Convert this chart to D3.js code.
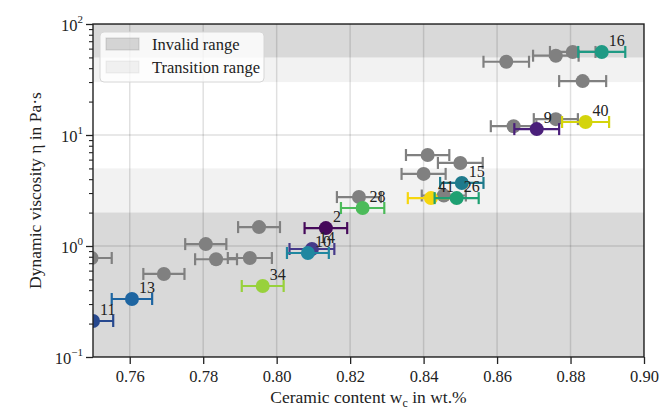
<!DOCTYPE html>
<html><head><meta charset="utf-8">
<script src="https://cdn.jsdelivr.net/npm/d3@7"></script>
<style>
body{margin:0;background:#fff}
svg{display:block}
</style>
</head><body>
<svg id="c" width="660" height="412"></svg>
<script>
// ---- data ----
const xTicks = [0.76, 0.78, 0.80, 0.82, 0.84, 0.86, 0.88, 0.90];
const yTicks = [0.1, 1, 10, 100];
const yExponents = ["\u22121", "0", "1", "2"];
const invalidBands = [[0.1, 2], [50, 100]];
const transitionBands = [[2, 5], [30, 50]];
const legendLabels = ["Invalid range", "Transition range"];

// reference (gray) measurements
const grayX   = [0.8625, 0.8760, 0.8806, 0.8833, 0.8645, 0.8760, 0.8411, 0.8500, 0.8400, 0.8455, 0.8224, 0.7952, 0.7807, 0.7835, 0.7927, 0.7496, 0.7693];
const grayY   = [45.7,   51.8,   56.0,   30.6,   12.0,   13.9,   6.6,    5.6,    4.46,   2.85,   2.76,   1.48,   1.04,   0.76,   0.78,   0.78,   0.56];
const grayErr = [0.0062, 0.0062, 0.0062, 0.0064, 0.0062, 0.0060, 0.0059, 0.0061, 0.0060, 0.0060, 0.0060, 0.0057, 0.0056, 0.0057, 0.0060, 0.0055, 0.0056];

// labelled measurements
const colLabels = ["16", "40", "9", "15", "41", "26", "28", "2", "14", "10", "34", "13", "11"];
const colX      = [0.8885, 0.8841, 0.8708, 0.8504, 0.8420, 0.8490, 0.8234, 0.8134, 0.8096, 0.8085, 0.7962, 0.7606, 0.7500];
const colY      = [56.0,   13.1,   11.3,   3.70,   2.70,   2.70,   2.20,   1.45,   0.94,   0.865,  0.436,  0.333,  0.211];
const colErr    = [0.0064, 0.0064, 0.0061, 0.0059, 0.0063, 0.0060, 0.0059, 0.0058, 0.0061, 0.0057, 0.0057, 0.0055, 0.0055];
const colColors = ["#1f9a84", "#d4d40c", "#4a1f7a", "#1f7a8c", "#f6d60e", "#1ea072", "#4cbb5a", "#45095a", "#463a8a", "#1f87a0", "#98d13c", "#1e65a1", "#27498f"];

// ---- layout ----
const FONT = "Liberation Serif, Tinos, Times New Roman, DejaVu Serif, serif";
const L = 93, R = 644, T = 24, B = 357;
const svg = d3.select("#c");
const x = d3.scaleLinear().domain([0.75, 0.90]).range([L, R]);
const y = d3.scaleLog().domain([0.1, 100]).range([B, T]);

svg.append("defs").append("clipPath").attr("id", "clip")
  .append("rect").attr("x", L).attr("y", T).attr("width", R - L).attr("height", B - T);

const plot = svg.append("g").attr("clip-path", "url(#clip)");

plot.selectAll("rect.inv").data(invalidBands).join("rect").attr("class", "inv")
  .attr("x", L).attr("width", R - L)
  .attr("y", d => y(d[1])).attr("height", d => y(d[0]) - y(d[1]))
  .attr("fill", "#808080").attr("fill-opacity", 0.3);
plot.selectAll("rect.tr").data(transitionBands).join("rect").attr("class", "tr")
  .attr("x", L).attr("width", R - L)
  .attr("y", d => y(d[1])).attr("height", d => y(d[0]) - y(d[1]))
  .attr("fill", "#808080").attr("fill-opacity", 0.1);

plot.selectAll("line.gx").data(xTicks).join("line").attr("class", "gx")
  .attr("x1", d => x(d)).attr("x2", d => x(d)).attr("y1", T).attr("y2", B)
  .attr("stroke", "#000").attr("stroke-opacity", 0.12).attr("stroke-width", 1.5);
plot.selectAll("line.gy").data(yTicks).join("line").attr("class", "gy")
  .attr("y1", d => y(d)).attr("y2", d => y(d)).attr("x1", L).attr("x2", R)
  .attr("stroke", "#000").attr("stroke-opacity", 0.12).attr("stroke-width", 1.5);

function drawPoints(g, xs, ys, es, colors) {
  const cap = 6;
  xs.forEach((xv, i) => {
    const c = colors[i];
    const yy = y(ys[i]);
    const x0 = x(xv - es[i]), x1 = x(xv + es[i]);
    g.append("line").attr("x1", x0).attr("x2", x1).attr("y1", yy).attr("y2", yy)
      .attr("stroke", c).attr("stroke-width", 2.2);
    [x0, x1].forEach(xc => g.append("line").attr("x1", xc).attr("x2", xc)
      .attr("y1", yy - cap).attr("y2", yy + cap).attr("stroke", c).attr("stroke-width", 2.2));
    g.append("circle").attr("cx", x(xv)).attr("cy", yy).attr("r", 7).attr("fill", c);
  });
}
drawPoints(plot.append("g"), grayX, grayY, grayErr, grayX.map(() => "#808080"));
drawPoints(plot.append("g"), colX, colY, colErr, colColors);

svg.append("g").selectAll("text").data(colLabels).join("text")
  .attr("x", (d, i) => x(colX[i]) + 7)
  .attr("y", (d, i) => y(colY[i]) - 6)
  .attr("font-family", FONT).attr("font-size", 16).attr("fill", "#222")
  .text(d => d);

const xAxis = svg.append("g").attr("transform", `translate(0,${B})`)
  .call(d3.axisBottom(x).tickValues(xTicks).tickFormat(d3.format(".2f")).tickSize(7).tickPadding(6))
  .attr("font-family", FONT).attr("font-size", 16.5);
xAxis.select(".domain").remove();
xAxis.selectAll("line").attr("stroke", "#222").attr("stroke-width", 1.3);
xAxis.selectAll("text").attr("fill", "#222");

const minor = [];
yTicks.slice(0, -1).forEach(d => { for (let k = 2; k <= 9; k++) minor.push(d * k); });
const yMinor = svg.append("g").attr("transform", `translate(${L},0)`)
  .call(d3.axisLeft(y).tickValues(minor).tickFormat("").tickSize(4));
yMinor.select(".domain").remove();
yMinor.selectAll("line").attr("stroke", "#222").attr("stroke-width", 1.1);

const yAxis = svg.append("g").attr("transform", `translate(${L},0)`)
  .call(d3.axisLeft(y).tickValues(yTicks).tickFormat("").tickSize(7));
yAxis.select(".domain").remove();
yAxis.selectAll("line").attr("stroke", "#222").attr("stroke-width", 1.3);

const yl = svg.append("g").attr("font-family", FONT).selectAll("text").data(yTicks).join("text")
  .attr("x", L - 10).attr("y", d => y(d) + 7)
  .attr("text-anchor", "end").attr("font-size", 16.5).attr("fill", "#222");
yl.append("tspan").text("10");
yl.append("tspan").attr("dy", -8).attr("font-size", 11).text((d, i) => yExponents[i]);

svg.append("rect").attr("x", L).attr("y", T).attr("width", R - L).attr("height", B - T)
  .attr("fill", "none").attr("stroke", "#222").attr("stroke-width", 1.4);

const xl = svg.append("text").attr("x", (L + R) / 2).attr("y", 403)
  .attr("text-anchor", "middle").attr("font-family", FONT).attr("font-size", 17.5).attr("fill", "#222");
xl.append("tspan").text("Ceramic content w");
xl.append("tspan").attr("dy", 4).attr("font-size", 12).text("c");
xl.append("tspan").attr("dy", -4).text(" in wt.%");

svg.append("text").attr("transform", `translate(41,${(T + B) / 2}) rotate(-90)`)
  .attr("text-anchor", "middle").attr("font-family", FONT).attr("font-size", 17.5).attr("fill", "#222")
  .text("Dynamic viscosity \u03b7 in Pa\u00b7s");

const lg = svg.append("g");
lg.append("rect").attr("x", 100).attr("y", 32).attr("width", 164).attr("height", 50).attr("rx", 4)
  .attr("fill", "#fff").attr("fill-opacity", 0.8).attr("stroke", "#d6d6d6");
legendLabels.forEach((t, i) => {
  lg.append("rect").attr("x", 106).attr("y", 38 + i * 23).attr("width", 33).attr("height", 12)
    .attr("fill", "#808080").attr("fill-opacity", i === 0 ? 0.3 : 0.1)
    .attr("stroke", "#808080").attr("stroke-opacity", i === 0 ? 0.3 : 0.1);
  lg.append("text").attr("x", 152).attr("y", 50 + i * 23)
    .attr("font-family", FONT).attr("font-size", 16.5).attr("fill", "#222").text(t);
});
</script>
</body></html>
